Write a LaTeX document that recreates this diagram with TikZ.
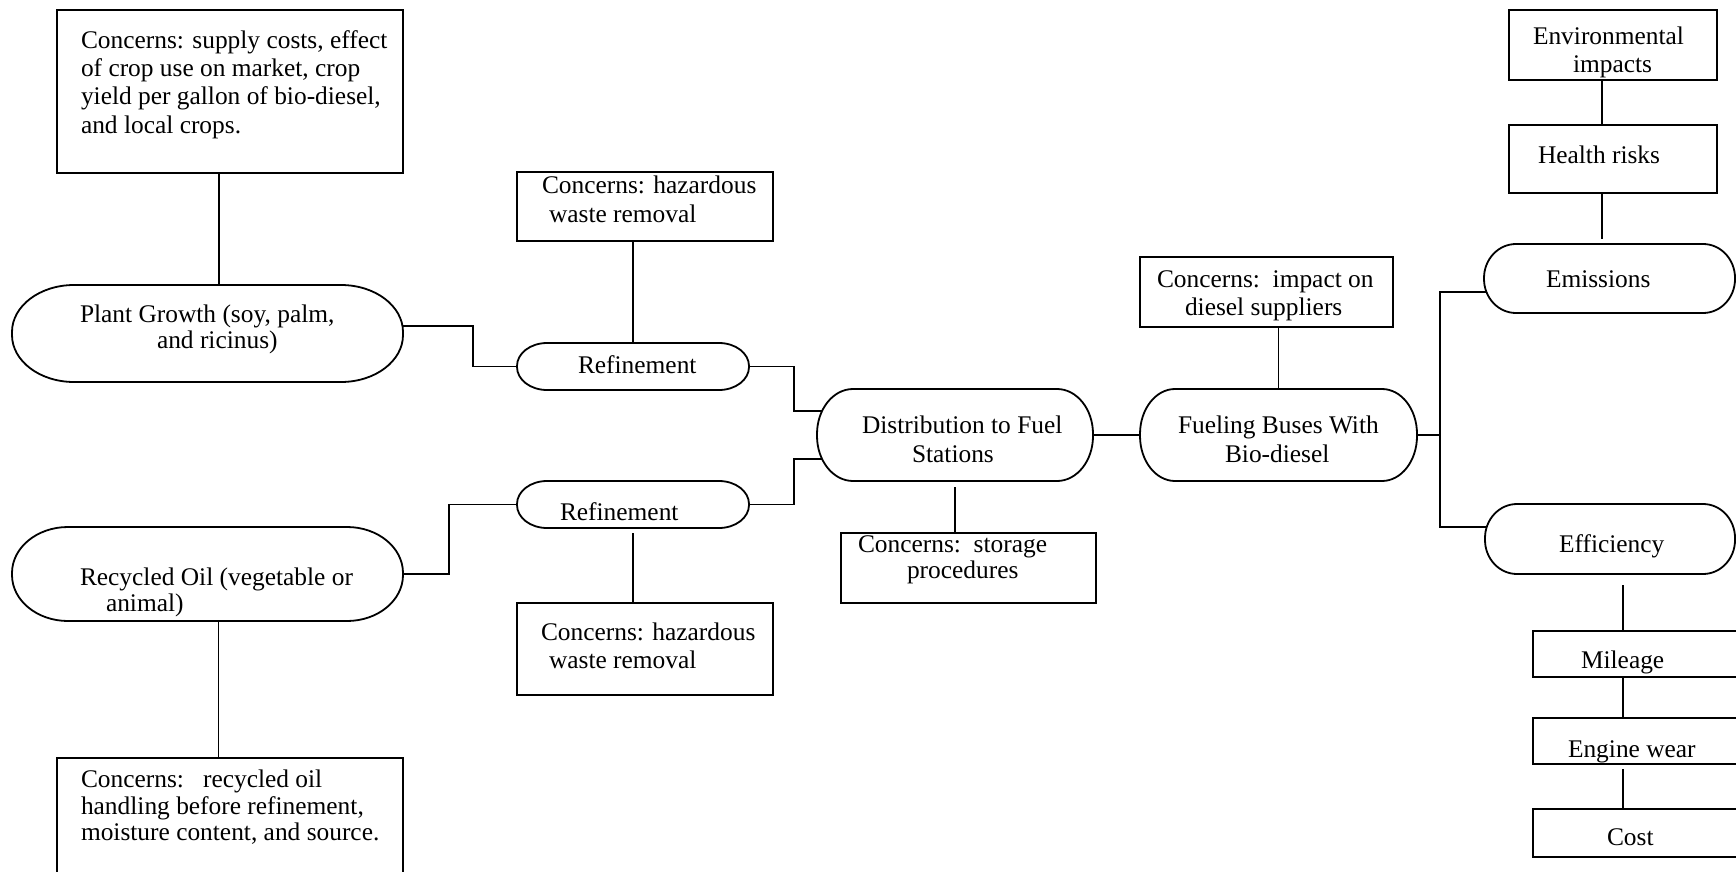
\documentclass[tikz,border=0pt]{standalone}
\usepackage{fontspec}
\setmainfont{Liberation Serif}
\usetikzlibrary{calc}
\pgfdeclarelayer{background}
\pgfsetlayers{background,main}
\newcommand\tf{\fontsize{25.4}{28}\selectfont}
% style, name, x1, y1, x2, y2 (pixel coordinates, y downwards)
\newcommand\mkshape[6]{%
  \node[#1, anchor=north west, minimum width={#5-#3}, minimum height={#6-#4}] (#2) at (#3,-#4) {};}
% terminator outline with elliptic ends: node, x radius, y radius
\newcommand\termdraw[3]{%
  \draw[shapeline] ([xshift=#2]#1.north west) -- ([xshift=-#2]#1.north east)
    arc[start angle=90, end angle=0, x radius=#2, y radius=#3]
    -- ([yshift=#3]#1.south east)
    arc[start angle=0, end angle=-90, x radius=#2, y radius=#3]
    -- ([xshift=#2]#1.south west)
    arc[start angle=270, end angle=180, x radius=#2, y radius=#3]
    -- ([yshift=-#3]#1.north west)
    arc[start angle=180, end angle=90, x radius=#2, y radius=#3] -- cycle;}
\begin{document}
\begin{tikzpicture}[x=1pt,y=1pt,
  conn/.style={line width=1.8pt, line join=miter},
  shapeline/.style={draw=black, fill=white, line width=1.8pt},
  cbox/.style={rectangle, draw=black, fill=white, line width=1.8pt, inner sep=0pt, outer sep=0pt},
  tnode/.style={rectangle, inner sep=0pt, outer sep=0pt},
  txt/.style={anchor=base west, inner sep=0pt, outer sep=0pt, font=\tf}]
\useasboundingbox (0,0) rectangle (1736,-872);

% ---- shapes ----
\mkshape{cbox}{tl}{57}{10}{403}{173}
\mkshape{tnode}{plant}{12}{285}{403}{382}\termdraw{plant}{62}{47}
\mkshape{tnode}{recyc}{12}{527}{403}{621}\termdraw{recyc}{56}{46}
\mkshape{cbox}{bl}{57}{758}{403}{895}
\mkshape{cbox}{haza}{517}{172}{773}{241}
\mkshape{tnode}{refa}{517}{343}{749}{390}\termdraw{refa}{30}{23}
\mkshape{tnode}{refb}{517}{481}{749}{528}\termdraw{refb}{30}{23}
\mkshape{cbox}{hazb}{517}{603}{773}{695}
\mkshape{tnode}{dist}{817}{389}{1093}{481}\termdraw{dist}{36}{45}
\mkshape{cbox}{stor}{841}{533}{1096}{603}
\mkshape{cbox}{imp}{1140}{257}{1393}{327}
\mkshape{tnode}{fuel}{1140}{389}{1417}{481}\termdraw{fuel}{35}{45}
\mkshape{cbox}{env}{1509}{10}{1717}{80}
\mkshape{cbox}{health}{1509}{125}{1717}{193}
\mkshape{tnode}{emis}{1484}{244}{1735}{313}\termdraw{emis}{32}{34}
\mkshape{tnode}{eff}{1485}{504}{1735}{574}\termdraw{eff}{32}{34}
\mkshape{cbox}{mile}{1533}{631}{1750}{677}
\mkshape{cbox}{eng}{1533}{718}{1750}{764}
\mkshape{cbox}{cost}{1533}{809}{1750}{857}

% ---- connectors (behind the shapes) ----
\begin{pgfonlayer}{background}
\fill[white] (0,0) rectangle (1736,-872);
\draw[conn] ([xshift=-11]tl.south) -- ([xshift=-11]tl.south |- plant.north);
\draw[conn] ([yshift=7.5,xshift=-10]plant.east) -- ++(80,0) |- ([xshift=10]refa.west);
\draw[conn] (refa.north) -- (refa.north |- haza.south);
\draw[conn] ([xshift=-10]refa.east) -- ++(55,0) |- ([yshift=24,xshift=12]dist.west);
\draw[conn] ([xshift=-10]recyc.east) -- ++(56,0) |- ([xshift=10]refb.west);
\draw[conn, shorten <=5pt] (refb.south) -- (refb.south |- hazb.north);
\draw[conn] ([xshift=-10]refb.east) -- ++(55,0) |- ([yshift=-24,xshift=12]dist.west);
\draw[conn, shorten <=6pt] (dist.south) -- (dist.south |- stor.north);
\draw[conn] ([xshift=11]recyc.south) -- ([xshift=11]recyc.south |- bl.north);
\draw[conn] (dist.east) -- (fuel.west);
\draw[conn] (fuel.north) -- (fuel.north |- imp.south);
\draw[conn] ([xshift=-10]fuel.east) -- ++(33,0) coordinate (fork) |- ([yshift=-13.5,xshift=10]emis.west);
\draw[conn] (fork) |- ([yshift=12,xshift=10]eff.west);
\draw[conn] ([xshift=-11]env.south) -- ([xshift=-11]env.south |- health.north);
\draw[conn, shorten >=5pt] ([xshift=-11]health.south) -- ([xshift=-11]health.south |- emis.north);
\draw[conn, shorten <=11pt] ([xshift=13]eff.south) -- ([xshift=13]eff.south |- mile.north);
\draw[conn] ([xshift=13]eff.south |- mile.south) -- ([xshift=13]eff.south |- eng.north);
\draw[conn, shorten <=5pt] ([xshift=13]eff.south |- eng.south) -- ([xshift=13]eff.south |- cost.north);
\end{pgfonlayer}

% ---- texts ----
\node[txt] (tla) at (81,-49) {Concerns: supply costs, effect};
\node[txt] (tlb) at (81,-77) {of crop use on market, crop};
\node[txt] (tlc) at (81,-105) {yield per gallon of bio-diesel,};
\node[txt] (tld) at (81,-133) {and local crops.};
\node[txt] (pla) at (80,-322) {Plant Growth (soy, palm,};
\node[txt] (plb) at (157,-348) {and ricinus)};
\node[txt] (rca) at (80,-585) {Recycled Oil (vegetable or};
\node[txt] (rcb) at (106,-611) {animal)};
\node[txt] (bla) at (81,-787) {Concerns:\ \ \ recycled oil};
\node[txt] (blb) at (81,-814) {handling before refinement,};
\node[txt] (blc) at (81,-840) {moisture content, and source.};
\node[txt] (haa) at (542,-193) {Concerns: hazardous};
\node[txt] (hab) at (549,-222) {waste removal};
\node[txt] (rfa) at (578,-373) {Refinement};
\node[txt] (rfb) at (560,-520) {Refinement};
\node[txt] (hba) at (541,-640) {Concerns: hazardous};
\node[txt] (hbb) at (549,-668) {waste removal};
\node[txt] (dsa) at (862,-433) {Distribution to Fuel};
\node[txt] (dsb) at (912,-462) {Stations};
\node[txt] (sta) at (858,-552) {Concerns:\ \ storage};
\node[txt] (stb) at (907,-578) {procedures};
\node[txt] (ima) at (1157,-287) {Concerns:\ \ impact on};
\node[txt] (imb) at (1185,-315) {diesel suppliers};
\node[txt] (fua) at (1178,-433) {Fueling Buses With};
\node[txt] (fub) at (1225,-462) {Bio-diesel};
\node[txt] (ena) at (1533,-45) {Environmental};
\node[txt] (enb) at (1573,-73) {impacts};
\node[txt] (hea) at (1538,-163) {Health risks};
\node[txt] (ema) at (1546,-287) {Emissions};
\node[txt] (efa) at (1559,-552) {Efficiency};
\node[txt] (mia) at (1581,-668) {Mileage};
\node[txt] (eng) at (1568,-757) {Engine wear};
\node[txt] (coa) at (1607,-845) {Cost};
\end{tikzpicture}
\end{document}
